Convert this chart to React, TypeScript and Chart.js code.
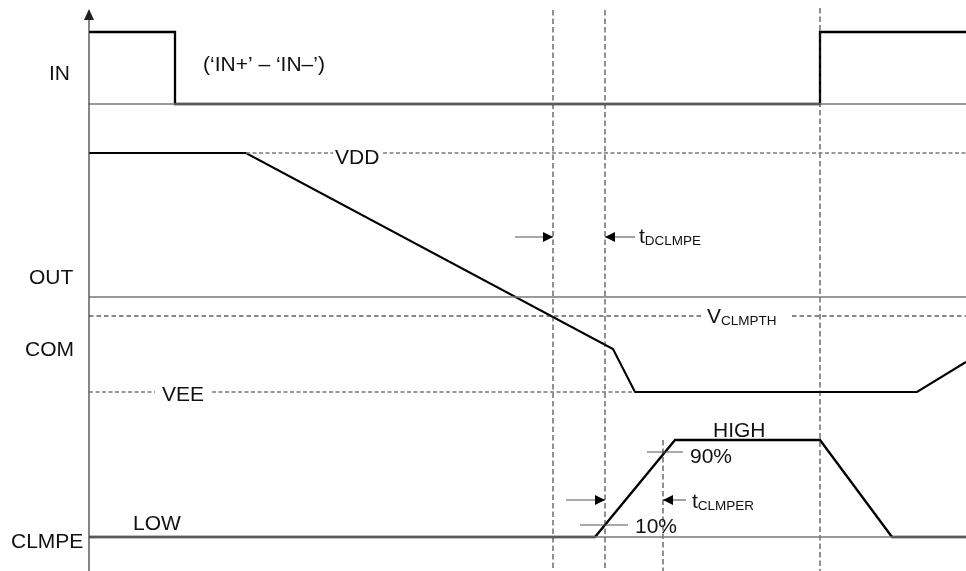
import React, { useEffect, useRef } from "react";
import { Chart, registerables } from "chart.js";

Chart.register(...registerables);

// ---- Timing-diagram data (time on x, signal level on y; y grows downward) ----
// IN signal ('IN+' – 'IN–')
const inTime = [89, 175, 175, 820, 820, 966];
const inLevel = [32, 32, 104, 104, 32, 32];
// OUT/COM signal
const outTime = [89, 246, 613, 635, 917, 966];
const outLevel = [153, 153, 349, 392, 392, 362];
// CLMPE signal
const clmpeTime = [89, 595, 675, 820, 892, 966];
const clmpeLevel = [537, 537, 440, 440, 537, 537];

// reference levels
const inBase = 104;
const comBase = 297;
const clmpeBase = 537;
const vddLevel = 153;
const vclmpthLevel = 316;
const veeLevel = 392;
const pct10Level = 525;
const pct90Level = 452;

// horizontal extents
const axisStart = 89;
const axisEnd = 966;
const axisTop = 18;
const axisBottom = 571;
const vddSegments = [[246, 333], [383, 966]];
const vclmpthSegments = [[89, 703], [792, 966]];
const veeSegments = [[89, 155], [212, 635]];
const pct10Span = [580, 628];
const pct90Span = [647, 683];

// vertical timing markers [time, topLevel, bottomLevel]
const markers = [
  [553, 10, 571],
  [605, 10, 571],
  [820, 8, 571],
  [663, 440, 571],
];

// timing arrows: [lineFrom, tipAt, level, direction]
const arrows = [
  [515, 553, 237, 1],
  [635, 605, 237, -1],
  [566, 605, 500, 1],
  [686, 663, 500, -1],
];

// text labels
const labels = [
  { t: "IN", x: 49, y: 80 },
  { t: "(\u2018IN+\u2019 \u2013 \u2018IN\u2013\u2019)", x: 203, y: 71 },
  { t: "VDD", x: 335, y: 164 },
  { t: "OUT", x: 29, y: 284 },
  { t: "COM", x: 25, y: 356 },
  { t: "VEE", x: 162, y: 401 },
  { t: "HIGH", x: 713, y: 437 },
  { t: "90%", x: 690, y: 463 },
  { t: "10%", x: 635, y: 533 },
  { t: "LOW", x: 133, y: 530 },
  { t: "CLMPE", x: 11, y: 548 },
  { t: "t", sub: "DCLMPE", x: 639, y: 243 },
  { t: "V", sub: "CLMPTH", x: 707, y: 323 },
  { t: "t", sub: "CLMPER", x: 692, y: 508 },
];

const FONT = '"Liberation Sans", Arial, Helvetica, sans-serif';

function pts(xs: number[], ys: number[]) {
  return xs.map((x, i) => ({ x, y: ys[i] }));
}

function seg(x0: number, x1: number, y: number) {
  return [{ x: x0, y }, { x: x1, y }];
}

function lineDs(data: any[], color: string, width: number, dash: number[] = []) {
  return {
    data,
    showLine: true,
    borderColor: color,
    borderWidth: width,
    borderDash: dash,
    pointRadius: 0,
    pointHoverRadius: 0,
    tension: 0,
    borderJoinStyle: "miter" as const,
    borderCapStyle: "butt" as const,
    fill: false,
  };
}

const overlay = {
  id: "overlay",
  afterDatasetsDraw(chart: any) {
    const { ctx } = chart;
    const sx = chart.scales.x;
    const sy = chart.scales.y;
    const px = (v: number) => sx.getPixelForValue(v);
    const py = (v: number) => sy.getPixelForValue(v);
    ctx.save();
    // axis arrow head
    ctx.fillStyle = "#222";
    ctx.beginPath();
    ctx.moveTo(px(axisStart), py(9));
    ctx.lineTo(px(axisStart) - 5, py(20));
    ctx.lineTo(px(axisStart) + 5, py(20));
    ctx.closePath();
    ctx.fill();
    // timing arrow heads
    ctx.fillStyle = "#000";
    arrows.forEach(([, tip, lvl, dir]) => {
      const tx = px(tip);
      const ty = py(lvl);
      ctx.beginPath();
      ctx.moveTo(tx, ty);
      ctx.lineTo(tx - dir * 10, ty - 5);
      ctx.lineTo(tx - dir * 10, ty + 5);
      ctx.closePath();
      ctx.fill();
    });
    // labels
    ctx.fillStyle = "#111";
    ctx.textBaseline = "alphabetic";
    ctx.textAlign = "left";
    labels.forEach((l: any) => {
      ctx.font = `21px ${FONT}`;
      const x = px(l.x);
      const y = py(l.y);
      ctx.fillText(l.t, x, y);
      if (l.sub) {
        const w = ctx.measureText(l.t).width;
        ctx.font = `13.5px ${FONT}`;
        ctx.fillText(l.sub, x + w, y + 2);
      }
    });
    ctx.restore();
  },
};

export default function App() {
  const ref = useRef<HTMLCanvasElement | null>(null);
  useEffect(() => {
    if (!ref.current) return;
    const gray = "#777";
    const datasets: any[] = [];
    // vertical axis
    datasets.push(lineDs([{ x: axisStart, y: axisBottom }, { x: axisStart, y: axisTop }], "#444", 1.3));
    // baselines
    datasets.push(lineDs(seg(axisStart, axisEnd, inBase), gray, 1.6));
    datasets.push(lineDs(seg(axisStart, axisEnd, comBase), gray, 1.6));
    datasets.push(lineDs(seg(axisStart, axisEnd, clmpeBase), gray, 1.6));
    // reference dashed levels
    vddSegments.forEach(([a, b]) => datasets.push(lineDs(seg(a, b, vddLevel), "#7a7a7a", 1.4, [4, 2.5])));
    vclmpthSegments.forEach(([a, b]) => datasets.push(lineDs(seg(a, b, vclmpthLevel), "#111", 1, [4.5, 3])));
    veeSegments.forEach(([a, b]) => datasets.push(lineDs(seg(a, b, veeLevel), "#7a7a7a", 1.4, [4, 2.5])));
    // vertical markers
    markers.forEach(([t, a, b]) => datasets.push(lineDs([{ x: t, y: a }, { x: t, y: b }], "#222", 1, [5.5, 3])));
    // percentage ticks
    datasets.push(lineDs(seg(pct10Span[0], pct10Span[1], pct10Level), "#555", 1.1));
    datasets.push(lineDs(seg(pct90Span[0], pct90Span[1], pct90Level), "#555", 1.1));
    // timing arrow shafts
    arrows.forEach(([from, tip, lvl]) => datasets.push(lineDs(seg(from, tip, lvl), "#555", 1.1)));
    // signals
    datasets.push(lineDs(pts(inTime, inLevel), "#000", 2.3));
    datasets.push(lineDs(pts(outTime, outLevel), "#000", 2.1));
    datasets.push(lineDs(pts(clmpeTime, clmpeLevel), "#000", 2.3));

    const chart = new Chart(ref.current, {
      type: "scatter",
      data: { datasets },
      options: {
        animation: false,
        responsive: true,
        maintainAspectRatio: false,
        layout: { padding: 0 },
        events: [],
        plugins: { legend: { display: false }, tooltip: { enabled: false } },
        scales: {
          x: { type: "linear", min: 0, max: 966, display: false },
          y: { type: "linear", min: 0, max: 571, reverse: true, display: false },
        },
      },
      plugins: [overlay],
    });
    return () => chart.destroy();
  }, []);
  return (
    <div style={{ position: "absolute", left: 0, top: 0, width: 966, height: 571, background: "#fff" }}>
      <canvas ref={ref} />
    </div>
  );
}
